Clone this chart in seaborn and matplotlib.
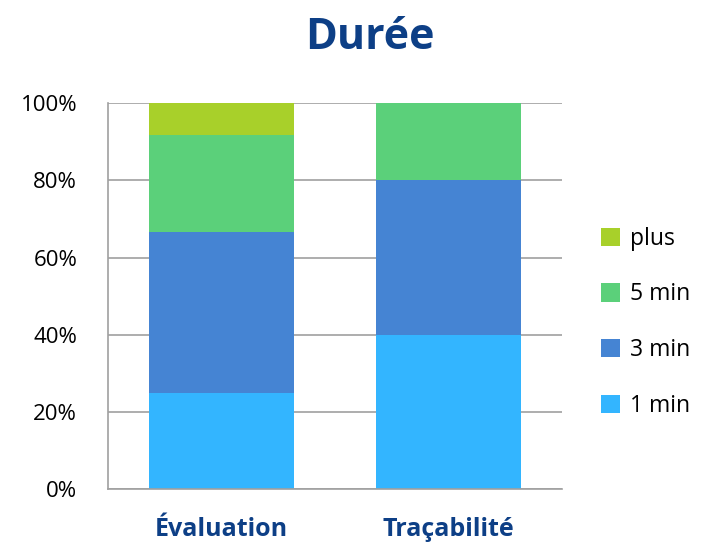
import matplotlib
matplotlib.use("Agg")
import matplotlib.pyplot as plt
import seaborn as sns
import numpy as np
import pandas as pd

categories = ["Évaluation", "Traçabilité"]
series = ["1 min", "3 min", "5 min", "plus"]
values_1min = [25.0, 40.0]
values_3min = [41.7, 40.0]
values_5min = [25.0, 20.0]
values_plus = [8.3, 0.0]
tick_labels = ["0%", "20%", "40%", "60%", "80%", "100%"]
colors = ["#33B5FF", "#4584D3", "#5BD07A", "#A8D02A"]

sns.set_theme(style="white")
plt.rcParams['font.family'] = ['Open Sans', 'DejaVu Sans']

data = np.array([values_1min, values_3min, values_5min, values_plus])
cum = np.cumsum(data, axis=0)

fig = plt.figure(figsize=(7.09, 5.46), dpi=100)
ax = fig.add_axes([0.152, 0.104, 0.641, 0.707])

for i in range(len(series) - 1, -1, -1):
    df = pd.DataFrame({"cat": categories, "val": cum[i]})
    sns.barplot(data=df, x="cat", y="val", color=colors[i], width=0.64,
                saturation=1, ax=ax, zorder=2, linewidth=0, edgecolor="none")

ax.set_xlim(-0.5, 1.5)
ax.set_ylim(0, 100)
ax.set_yticks([0, 20, 40, 60, 80, 100])
ax.set_yticklabels(tick_labels)
ax.yaxis.grid(True, color="#A0A0A0", linewidth=1.2, zorder=0)
ax.set_axisbelow(True)
for s in ["top", "right"]:
    ax.spines[s].set_visible(False)
for s in ["left", "bottom"]:
    ax.spines[s].set_color("#A0A0A0")
    ax.spines[s].set_linewidth(1.2)
ax.tick_params(axis="y", length=0, labelsize=16, colors="#000000", pad=22)
ax.tick_params(axis="x", length=0, labelsize=18, pad=20)
for lbl in ax.get_xticklabels():
    lbl.set_fontweight("bold")
    lbl.set_color("#0D3F86")
ax.set_xlabel("")
ax.set_ylabel("")

from matplotlib.patches import Patch
leg_handles = [Patch(facecolor=colors[i], edgecolor="none", label=series[i])
               for i in range(len(series) - 1, -1, -1)]
leg = fig.legend(handles=leg_handles, loc="center left", bbox_to_anchor=(0.818, 0.41),
                 frameon=False, fontsize=16.5, handlelength=0.85, handleheight=0.85,
                 handletextpad=0.45, labelspacing=1.38)
for t in leg.get_texts():
    t.set_color("#000000")

fig.text(0.522, 0.932, "Durée", ha="center", va="center", fontsize=31,
         fontweight="bold", color="#0D3F86")

fig.savefig("out.png", dpi=100)
